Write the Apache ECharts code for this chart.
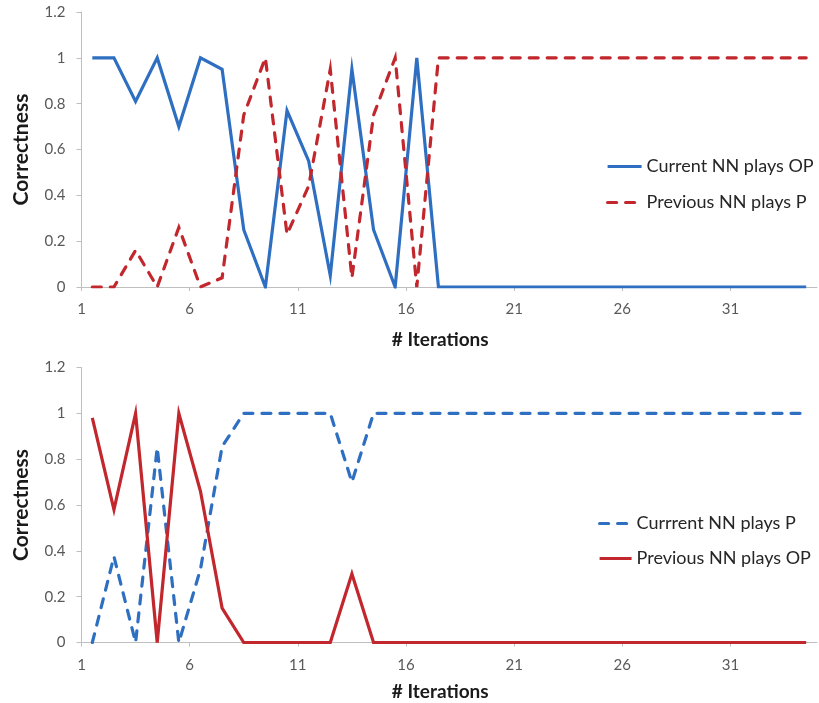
<!DOCTYPE html>
<html>
<head>
<meta charset="utf-8">
<script src="https://cdn.jsdelivr.net/npm/echarts@6/dist/echarts.min.js"></script>
<style>html,body{margin:0;padding:0;background:#fff;}#chart{width:819px;height:703px;}</style>
</head>
<body>
<div id="chart"></div>
<script>
// ---- data ----
var iterations = [];
for (var k = 1; k <= 34; k++) iterations.push(k);

var topCurrentOP = [1, 1, 0.81, 1, 0.7, 1, 0.95, 0.25, 0, 0.77, 0.55, 0.05, 0.95, 0.25, 0, 1, 0,
  0, 0, 0, 0, 0, 0, 0, 0, 0, 0, 0, 0, 0, 0, 0, 0, 0];
var topPreviousP = [0, 0, 0.16, 0, 0.26, 0, 0.04, 0.75, 1, 0.23, 0.44, 0.95, 0.04, 0.75, 1, 0, 1,
  1, 1, 1, 1, 1, 1, 1, 1, 1, 1, 1, 1, 1, 1, 1, 1, 1];

var botCurrentP = [0, 0.375, 0, 0.85, 0, 0.32, 0.855, 1, 1, 1, 1, 1, 0.7, 1, 1,
  1, 1, 1, 1, 1, 1, 1, 1, 1, 1, 1, 1, 1, 1, 1, 1, 1, 1, 1];
var botPreviousOP = [0.98, 0.58, 1, 0, 1, 0.66, 0.15, 0, 0, 0, 0, 0, 0.3, 0, 0,
  0, 0, 0, 0, 0, 0, 0, 0, 0, 0, 0, 0, 0, 0, 0, 0, 0, 0, 0];

var xTickLabels = ['1', '6', '11', '16', '21', '26', '31'];
var yTickLabels = ['0', '0.2', '0.4', '0.6', '0.8', '1', '1.2'];

var topNames = ['Current NN plays OP', 'Previous NN plays P'];
var botNames = ['Currrent NN plays P', 'Previous NN plays OP'];

// ---- chart ----
var BLUE = '#2e6fc1';
var RED = '#c1272d';
var FONT = 'Lato';
var AXIS_COLOR = '#bfbfbf';

function pairs(arr) { return arr.map(function (v, i) { return [iterations[i], v]; }); }

// x tick positions sit on category boundaries (label n at boundary before iteration n)
var xTickValues = xTickLabels.map(function (s) { return Number(s) - 0.5; });

function xAxis(gridIndex, nameGap) {
  return {
    type: 'value', gridIndex: gridIndex,
    min: 0.5, max: iterations.length + 0.5,
    name: '# Iterations', nameLocation: 'middle', nameGap: nameGap,
    nameTextStyle: { fontFamily: FONT, fontWeight: 'bold', fontSize: 19, color: '#1a1a1a', padding: [0, 18, 0, 0] },
    axisLine: { show: true, lineStyle: { color: AXIS_COLOR, width: 1 } },
    axisTick: { show: true, customValues: xTickValues, length: 4, lineStyle: { color: AXIS_COLOR } },
    axisLabel: {
      customValues: xTickValues, margin: 15, color: '#595959', fontFamily: FONT, fontSize: 15,
      formatter: function (v) { return xTickLabels[xTickValues.indexOf(v)]; }
    },
    splitLine: { show: false }
  };
}
function yAxis(gridIndex) {
  return {
    type: 'value', gridIndex: gridIndex, min: 0, max: 1.2, interval: 0.2,
    name: 'Correctness', nameLocation: 'middle', nameGap: 50, nameRotate: 90,
    nameTextStyle: { fontFamily: FONT, fontWeight: 'bold', fontSize: 21, color: '#1a1a1a' },
    axisLine: { show: true, lineStyle: { color: AXIS_COLOR, width: 1 } },
    axisTick: { show: true, length: 5, lineStyle: { color: AXIS_COLOR } },
    axisLabel: {
      margin: 16, color: '#595959', fontFamily: FONT, fontSize: 15,
      formatter: function (v) { return yTickLabels[Math.round(v / 0.2)]; }
    },
    splitLine: { show: false }
  };
}
function series(name, data, color, dashed, axisIdx) {
  return {
    name: name, type: 'line', xAxisIndex: axisIdx, yAxisIndex: axisIdx,
    data: pairs(data), symbol: 'none', smooth: false, animation: false,
    lineStyle: { color: color, width: 3.2, type: dashed ? [9, 9] : 'solid', cap: dashed ? 'round' : 'butt', join: 'miter' },
    itemStyle: { color: color }
  };
}
function legend(names, left, top, gap, w) {
  return {
    data: names, orient: 'vertical', left: left, top: top, itemGap: gap, padding: 0,
    itemWidth: w, itemHeight: 16,
    itemStyle: { opacity: 0, color: 'transparent', borderWidth: 0 },
    lineStyle: { width: 3.2 },
    textStyle: { fontFamily: FONT, fontSize: 18, lineHeight: 22, color: '#262626' }
  };
}

var chart = echarts.init(document.getElementById('chart'), null, { renderer: 'canvas' });
chart.setOption({
  animation: false,
  backgroundColor: '#ffffff',
  grid: [
    { left: 81.5, width: 735.5, top: 12, height: 275 },
    { left: 81.5, width: 735.5, top: 367.5, height: 275 }
  ],
  xAxis: [xAxis(0, 43), xAxis(1, 40)],
  yAxis: [yAxis(0), yAxis(1)],
  legend: [
    legend(topNames, 606, 155.5, 14, 34),
    legend(botNames, 598, 512.5, 13, 32)
  ],
  series: [
    series(topNames[0], topCurrentOP, BLUE, false, 0),
    series(topNames[1], topPreviousP, RED, true, 0),
    series(botNames[0], botCurrentP, BLUE, true, 1),
    series(botNames[1], botPreviousOP, RED, false, 1)
  ]
});
</script>
</body>
</html>
